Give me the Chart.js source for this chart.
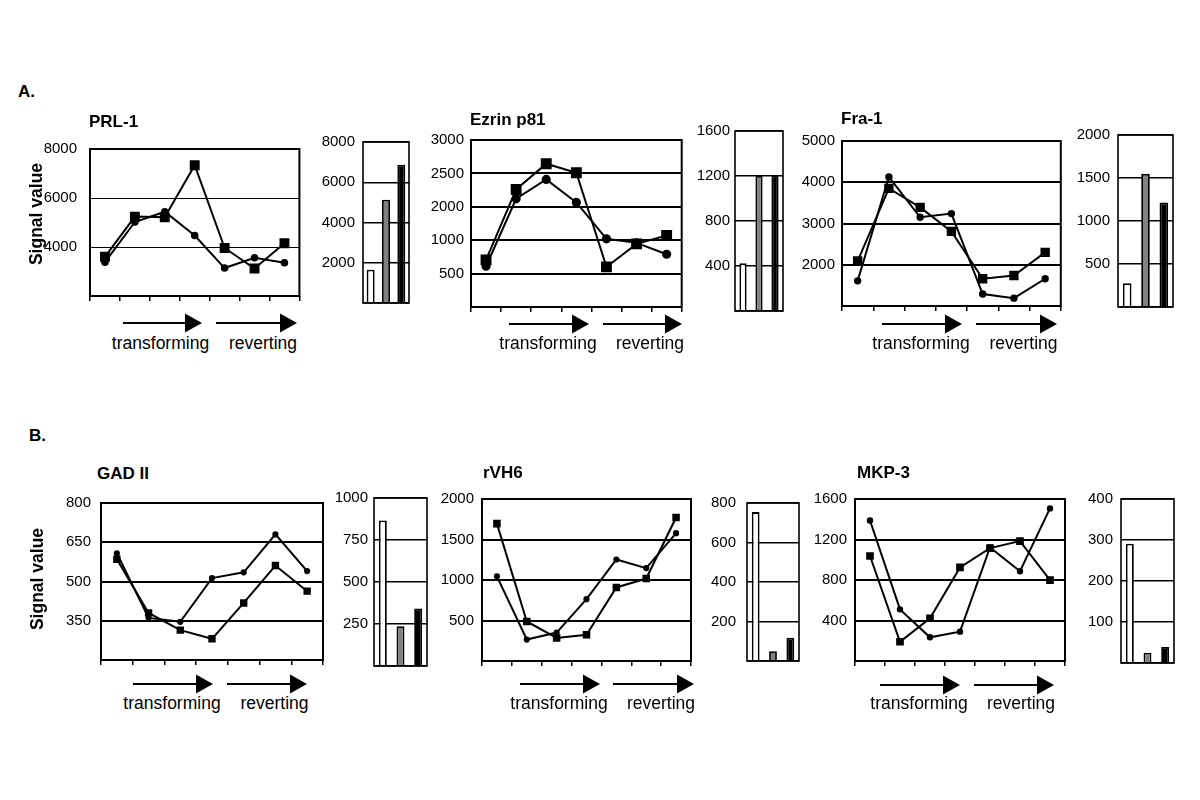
<!DOCTYPE html>
<html>
<head>
<meta charset="utf-8">
<script src="https://cdn.jsdelivr.net/npm/chart.js@4.4.1/dist/chart.umd.min.js"></script>
<style>
  body { margin: 0; background: #fff; width: 1200px; height: 800px; position: relative; overflow: hidden;
         font-family: Arial, "Liberation Sans", sans-serif; color: #000; }
  .box { position: absolute; }
  .txt { position: absolute; white-space: nowrap; line-height: 20px; }
  svg { position: absolute; left: 0; top: 0; }
</style>
</head>
<body>
<svg id="arrows" width="1200" height="800"></svg>
<script>
// time course points (7) and summary bars (3)
const timePoints = ['t1', 't2', 't3', 't4', 't5', 't6', 't7'];
const barGroups = ['b1', 'b2', 'b3'];

// PRL-1
const prlSquares = [3600, 5240, 5210, 7340, 3960, 3120, 4150];
const prlCircles = [3380, 5020, 5440, 4470, 3140, 3560, 3360];
const prlTicks = [2000, 4000, 6000, 8000];
const prlBars = [1650, 5130, 6870];
const prlBarTicks = [0, 2000, 4000, 6000, 8000];

// Ezrin p81 (axis labels in the figure are not evenly stepped)
const ezrinSquares = [705, 1760, 2145, 2010, 600, 945, 1070];
const ezrinCircles = [610, 1620, 1910, 1565, 1020, 960, 790];
const ezrinTicks = [0, 500, 1000, 1500, 2000, 2500];
const ezrinTickLabels = ['', '500', '1000', '2000', '2500', '3000'];
const ezrinBars = [425, 1200, 1200];
const ezrinBarTicks = [0, 400, 800, 1200, 1600];

// Fra-1
const fraSquares = [2090, 3850, 3390, 2810, 1660, 1740, 2300];
const fraCircles = [1610, 4130, 3150, 3240, 1290, 1190, 1660];
const fraTicks = [1000, 2000, 3000, 4000, 5000];
const fraBars = [277, 1548, 1214];
const fraBarTicks = [0, 500, 1000, 1500, 2000];

// GAD II
const gadSquares = [585, 380, 314, 281, 418, 561, 463];
const gadCircles = [608, 361, 346, 513, 535, 680, 540];
const gadTicks = [200, 350, 500, 650, 800];
const gadBars = [866, 236, 343];
const gadBarTicks = [0, 250, 500, 750, 1000];

// rVH6
const rvhSquares = [1696, 488, 284, 324, 908, 1018, 1771];
const rvhCircles = [1045, 265, 351, 763, 1253, 1147, 1578];
const rvhTicks = [0, 500, 1000, 1500, 2000];
const rvhBars = [754, 49, 118];
const rvhBarTicks = [0, 200, 400, 600, 800];

// MKP-3
const mkpSquares = [1037, 190, 422, 924, 1115, 1184, 798];
const mkpCircles = [1388, 510, 234, 290, 1122, 886, 1507];
const mkpTicks = [0, 400, 800, 1200, 1600];
const mkpBars = [291, 25, 39];
const mkpBarTicks = [0, 100, 200, 300, 400];

const FONT = 'Arial, "Liberation Sans", sans-serif';
const Y_W = 60, PT = 12, PR = 4, X_H = 14;
Chart.defaults.font.family = FONT;
Chart.defaults.color = '#000';

// black box round the plot area
const frame = {
  id: 'frame',
  beforeDatasetsDraw(chart, args, opts) {
    const a = chart.chartArea, ctx = chart.ctx;
    ctx.save();
    ctx.strokeStyle = '#000';
    ctx.lineWidth = opts.width || 2;
    ctx.strokeRect(a.left, a.top, a.right - a.left, a.bottom - a.top);
    ctx.restore();
  }
};

function place(box) {
  const d = document.createElement('div');
  d.className = 'box';
  d.style.left = (box[0] - Y_W) + 'px';
  d.style.top = (box[1] - PT) + 'px';
  d.style.width = (box[2] - box[0] + Y_W + PR) + 'px';
  d.style.height = (box[3] - box[1] + PT + X_H) + 'px';
  const c = document.createElement('canvas');
  d.appendChild(c);
  document.body.appendChild(d);
  return c;
}

function yAxis(ticks, labels, pad, gridW) {
  return {
    min: ticks[0],
    max: ticks[ticks.length - 1],
    afterBuildTicks: s => { s.ticks = ticks.map(v => ({ value: v })); },
    afterFit: s => { s.width = Y_W; },
    ticks: {
      padding: pad,
      font: { size: 15 },
      callback: (v, i) => i === 0 ? '' : (labels ? labels[i] : String(v))
    },
    grid: { color: '#000', lineWidth: gridW, drawTicks: false },
    border: { display: false }
  };
}

function baseOpts(frameW) {
  return {
    animation: false,
    responsive: true,
    maintainAspectRatio: false,
    layout: { padding: { top: PT, right: PR, left: 0, bottom: 0 } },
    plugins: { legend: { display: false }, tooltip: { enabled: false }, frame: { width: frameW } }
  };
}

function lineChart(box, squares, circles, ticks, labels, st) {
  new Chart(place(box), {
    type: 'line',
    data: {
      labels: timePoints,
      datasets: [
        { data: squares, borderColor: '#000', backgroundColor: '#000', borderWidth: 2,
          pointStyle: 'rect', pointRadius: st.sq, tension: 0 },
        { data: circles, borderColor: '#000', backgroundColor: '#000', borderWidth: 2,
          pointStyle: 'circle', pointRadius: st.dot, tension: 0 }
      ]
    },
    options: Object.assign(baseOpts(2), {
      scales: {
        x: {
          offset: true,
          grid: { offset: true, drawOnChartArea: false, drawTicks: true, tickLength: 5, color: '#000', lineWidth: 1.5 },
          ticks: { display: false },
          border: { display: false },
          afterFit: s => { s.height = X_H; }
        },
        y: yAxis(ticks, labels, st.pad, st.grid)
      }
    }),
    plugins: [frame]
  });
}

function barChart(box, values, ticks, st) {
  new Chart(place(box), {
    type: 'bar',
    data: {
      labels: barGroups,
      datasets: [{
        data: values,
        backgroundColor: ['#ffffff', '#808080', '#000000'],
        borderColor: '#000',
        borderWidth: 1.8,
        barPercentage: st.bw,
        categoryPercentage: 1
      }]
    },
    options: Object.assign(baseOpts(1.6), {
      scales: {
        x: {
          grid: { display: false },
          ticks: { display: false },
          border: { display: false },
          afterFit: s => { s.height = X_H; }
        },
        y: yAxis(ticks, null, st.pad, 1.4)
      }
    }),
    plugins: [frame]
  });
}

// panel A
lineChart([90, 139, 303, 304], prlSquares, prlCircles, prlTicks, null, { sq: 5.6, dot: 2.8, pad: 13, grid: 1 });
barChart([363, 137, 409, 306], prlBars, prlBarTicks, { bw: 0.52, pad: 8 });
lineChart([471, 136, 686, 309], ezrinSquares, ezrinCircles, ezrinTicks, ezrinTickLabels, { sq: 6.3, dot: 3.6, pad: 7, grid: 2 });
barChart([735, 129, 783, 311], ezrinBars, ezrinBarTicks, { bw: 0.45, pad: 5 });
lineChart([842, 137, 1064, 308], fraSquares, fraCircles, fraTicks, null, { sq: 5.2, dot: 2.7, pad: 7, grid: 2 });
barChart([1118, 130, 1173, 310], fraBars, fraBarTicks, { bw: 0.47, pad: 8 });

// panel B
lineChart([101, 496, 325, 665], gadSquares, gadCircles, gadTicks, null, { sq: 3.8, dot: 2.1, pad: 10, grid: 2 });
barChart([374, 495, 427, 667], gadBars, gadBarTicks, { bw: 0.45, pad: 6 });
lineChart([482, 494, 693, 664], rvhSquares, rvhCircles, rvhTicks, null, { sq: 3.9, dot: 2.1, pad: 8, grid: 2 });
barChart([747, 495, 799, 667], rvhBars, rvhBarTicks, { bw: 0.45, pad: 11 });
lineChart([855, 494, 1067, 664], mkpSquares, mkpCircles, mkpTicks, null, { sq: 4, dot: 2.2, pad: 8, grid: 2 });
barChart([1121, 494, 1174, 666], mkpBars, mkpBarTicks, { bw: 0.45, pad: 8 });

// texts
function text(str, x, y, css) {
  const d = document.createElement('div');
  d.className = 'txt';
  d.textContent = str;
  d.style.left = x + 'px';
  d.style.top = (y - 10) + 'px';
  Object.assign(d.style, css || {});
  document.body.appendChild(d);
}
const bold = { fontWeight: 'bold', fontSize: '17px' };
text('A.', 18, 92, bold);
text('B.', 29, 436, bold);
text('PRL-1', 89, 122, bold);
text('Ezrin p81', 470, 120, bold);
text('Fra-1', 841, 119, bold);
text('GAD II', 97, 474, bold);
text('rVH6', 483, 473, bold);
text('MKP-3', 857, 473, bold);
const rot = { fontWeight: 'bold', fontSize: '17.5px', transform: 'translate(-50%, 0) rotate(-90deg)', transformOrigin: '50% 50%' };
text('Signal value', 36, 214, rot);
text('Signal value', 37, 579, rot);

// arrow pairs under each line chart, with their caption centres
const arrowRows = [
  { a1: [123, 202], a2: [216, 297], y: 323, t1: 160.5, t2: 263, ty: 343 },
  { a1: [509, 589], a2: [603, 682], y: 324, t1: 548, t2: 650, ty: 342.5 },
  { a1: [882, 962], a2: [976, 1057], y: 324, t1: 921, t2: 1023.5, ty: 343 },
  { a1: [133, 213], a2: [227, 307], y: 684, t1: 172, t2: 274.5, ty: 703 },
  { a1: [520, 600], a2: [613, 694], y: 684, t1: 559, t2: 661, ty: 702.5 },
  { a1: [880, 960], a2: [974, 1054], y: 685, t1: 919, t2: 1021, ty: 703 }
];
const svg = document.getElementById('arrows');
const NS = 'http://www.w3.org/2000/svg';
function arrow(x1, x2, y) {
  const head = 17;
  const l = document.createElementNS(NS, 'line');
  l.setAttribute('x1', x1); l.setAttribute('x2', x2 - head + 1);
  l.setAttribute('y1', y); l.setAttribute('y2', y);
  l.setAttribute('stroke', '#000'); l.setAttribute('stroke-width', 2);
  svg.appendChild(l);
  const p = document.createElementNS(NS, 'polygon');
  p.setAttribute('points', `${x2 - head},${y - 9.5} ${x2},${y} ${x2 - head},${y + 9.5}`);
  p.setAttribute('fill', '#000');
  svg.appendChild(p);
}
const mid = { fontSize: '17.5px', transform: 'translate(-50%, 0)' };
arrowRows.forEach(r => {
  arrow(r.a1[0], r.a1[1], r.y);
  arrow(r.a2[0], r.a2[1], r.y);
  text('transforming', r.t1, r.ty, mid);
  text('reverting', r.t2, r.ty, mid);
});
</script>
</body>
</html>
